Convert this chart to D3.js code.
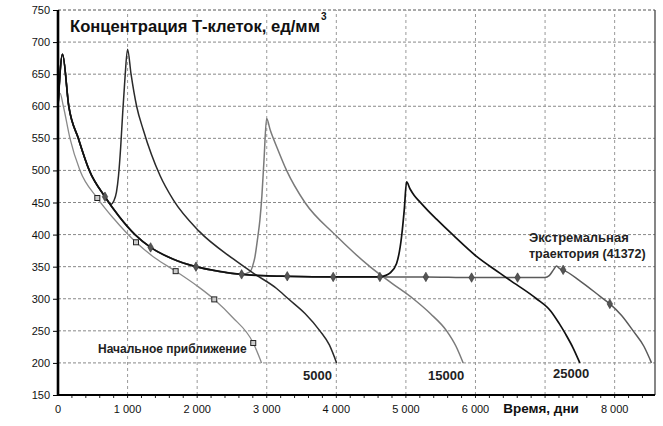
<!DOCTYPE html>
<html>
<head>
<meta charset="utf-8">
<script src="https://cdn.jsdelivr.net/npm/d3@7"></script>
<style>
  body { margin: 0; background: #fff; }
  text { font-family: "Liberation Sans", Arial, sans-serif; }
</style>
</head>
<body>
<div id="chart"></div>
<script>
// [time, days ; T-cell concentration]
const commonStart = [[0, 600], [65, 681], [155, 600], [292, 550], [450, 500], [675, 459]];
const commonMid = [[880, 428], [1106, 400], [1331, 380], [1650, 362], [1983, 350], [2300, 343], [2639, 338]];
const commonLate = [[2960, 336], [3295, 335], [3955, 334], [4626, 334]];

const initialApprox = [[0, 600], [30, 620], [77, 600], [172, 550], [316, 500], [565, 457], [800, 425],
  [1121, 388], [1400, 363], [1691, 343], [2000, 320], [2246, 299], [2500, 272], [2806, 231], [2926, 200]];
const tail5000 = [[760, 447], [800, 452], [840, 466], [870, 492], [900, 535], [930, 590], [960, 640],
  [1000, 689], [1050, 650], [1130, 600], [1226, 563], [1466, 492], [1657, 454], [2030, 405], [2519, 362],
  [2806, 340], [3142, 316], [3309, 300], [3550, 277], [3764, 250], [3900, 228], [4004, 200]];
const tail15000 = [[2760, 342], [2800, 352], [2830, 365], [2870, 395], [2902, 423], [2930, 460], [2960, 515],
  [2998, 581], [3050, 563], [3150, 535], [3285, 500], [3549, 450], [3980, 400], [4250, 372], [4483, 350],
  [4800, 324], [5105, 300], [5350, 277], [5585, 250], [5720, 226], [5823, 200]];
const tail25000 = [[4700, 336], [4770, 340], [4866, 355], [4938, 397], [4976, 438], [5010, 482], [5060, 471],
  [5120, 461], [5201, 451], [5320, 437], [5440, 424], [5680, 399], [6015, 366], [6350, 340], [6494, 329],
  [6877, 300], [7080, 281], [7200, 262], [7300, 244], [7400, 224], [7500, 200]];
const tailExtremal = [[5287, 334], [5944, 333], [6605, 333], [6997, 333], [7060, 336], [7120, 345], [7165, 351],
  [7210, 347], [7260, 345], [7500, 328], [7800, 303], [7931, 292], [8100, 274], [8266, 250], [8420, 226], [8530, 200]];

const squareMarks = [[565, 457], [1121, 388], [1691, 343], [2246, 299], [2806, 231]];
const diamondMarks = [[675, 459], [1331, 380], [1983, 350], [2639, 338], [3295, 335], [3955, 334],
  [4626, 334], [5287, 334], [5944, 333], [6605, 333], [7260, 345], [7931, 292]];

const xTicks = [0, 1000, 2000, 3000, 4000, 5000, 6000, 7000, 8000];
const xTickLabels = ['0', '1 000', '2 000', '3 000', '4 000', '5 000', '6 000', '', '8 000'];
const yTicks = [150, 200, 250, 300, 350, 400, 450, 500, 550, 600, 650, 700, 750];

const W = 663, H = 426;
const svg = d3.select('#chart').append('svg').attr('width', W).attr('height', H);

const x = d3.scaleLinear().domain([0, 8580]).range([58, 655]);
const y = d3.scaleLinear().domain([150, 750]).range([395, 10]);

// grid
svg.append('g').selectAll('line').data(yTicks.filter(d => d > 150)).join('line')
  .attr('x1', x(0)).attr('x2', x(8580))
  .attr('y1', d => y(d)).attr('y2', d => y(d))
  .attr('stroke', d => d === 750 ? '#555' : '#888').attr('stroke-width', 1)
  .attr('stroke-dasharray', '3,2');
svg.append('g').selectAll('line').data(xTicks.filter(d => d > 0)).join('line')
  .attr('x1', d => x(d)).attr('x2', d => x(d))
  .attr('y1', y(150)).attr('y2', y(750))
  .attr('stroke', '#999').attr('stroke-width', 1)
  .attr('stroke-dasharray', '3,3');

// right frame
svg.append('line').attr('x1', x(8580)).attr('x2', x(8580)).attr('y1', y(750)).attr('y2', y(150))
  .attr('stroke', '#444').attr('stroke-width', 1.3);

// curves
const line = d3.line().x(d => x(d[0])).y(d => y(d[1])).curve(d3.curveMonotoneX);
const series = [
  { pts: initialApprox, color: '#8a8a8a', w: 1.3 },
  { pts: commonStart.concat(commonMid, commonLate, tailExtremal), color: '#5a5a5a', w: 1.5 },
  { pts: commonStart.concat(commonMid, tail15000), color: '#7a7a7a', w: 1.5 },
  { pts: commonStart.concat(tail5000), color: '#2a2a2a', w: 1.5 },
  { pts: commonStart.concat(commonMid, commonLate, tail25000), color: '#111', w: 1.7 }
];
series.forEach(s => {
  svg.append('path').datum(s.pts)
    .attr('fill', 'none').attr('stroke', s.color).attr('stroke-width', s.w)
    .attr('stroke-linejoin', 'round').attr('d', line);
});

// markers
svg.append('g').selectAll('rect').data(squareMarks).join('rect')
  .attr('x', d => x(d[0]) - 2.5).attr('y', d => y(d[1]) - 2.5)
  .attr('width', 5).attr('height', 5)
  .attr('fill', '#ccc').attr('stroke', '#222').attr('stroke-width', 1);
svg.append('g').selectAll('path').data(diamondMarks).join('path')
  .attr('transform', d => `translate(${x(d[0])},${y(d[1])})`)
  .attr('d', d3.symbol(d3.symbolDiamond, 26))
  .attr('fill', '#555').attr('stroke', '#333').attr('stroke-width', 0.6);

// axes
const yAxis = svg.append('g').attr('transform', `translate(${x(0)},0)`)
  .call(d3.axisLeft(y).tickValues(yTicks).tickSize(5).tickPadding(3));
yAxis.select('.domain').remove();
yAxis.selectAll('text').attr('font-size', 11).attr('fill', '#111')
  .style('font-family', '"Liberation Sans", Arial, sans-serif');

const minor = d3.range(200, 8580, 200);
svg.append('g').selectAll('line').data(minor).join('line')
  .attr('x1', d => x(d)).attr('x2', d => x(d))
  .attr('y1', y(150)).attr('y2', y(150) + 3)
  .attr('stroke', '#222').attr('stroke-width', 1);

svg.append('g').selectAll('text').data(xTicks).join('text')
  .attr('x', d => x(d)).attr('y', 413)
  .attr('text-anchor', 'middle').attr('font-size', 11).attr('fill', '#111')
  .text((d, i) => xTickLabels[i]);

svg.append('line').attr('x1', x(0)).attr('x2', x(8580)).attr('y1', y(150)).attr('y2', y(150))
  .attr('stroke', '#000').attr('stroke-width', 2);
svg.append('line').attr('x1', x(0)).attr('x2', x(0)).attr('y1', y(750)).attr('y2', y(150) + 1)
  .attr('stroke', '#000').attr('stroke-width', 2.6);

// titles and labels
const title = svg.append('text').attr('x', 70).attr('y', 32)
  .attr('font-size', 16.6).attr('font-weight', 'bold').attr('fill', '#111');
title.append('tspan').text('Концентрация Т-клеток, ед/мм');
title.append('tspan').attr('font-size', 10).attr('dx', 1).attr('dy', -12).text('3');

svg.append('text').attr('x', 541).attr('y', 413).attr('text-anchor', 'middle')
  .attr('font-size', 13.5).attr('font-weight', 'bold').attr('fill', '#111').text('Время, дни');

const labels = [
  { t: 'Начальное приближение', x: 98, y: 353, s: 12 },
  { t: '5000', x: 303, y: 380, s: 13 },
  { t: '15000', x: 428, y: 380, s: 13 },
  { t: '25000', x: 553, y: 378, s: 13 },
  { t: 'Экстремальная', x: 529, y: 242, s: 13 },
  { t: 'траектория (41372)', x: 529, y: 258, s: 12.5 }
];
svg.append('g').selectAll('text').data(labels).join('text')
  .attr('x', d => d.x).attr('y', d => d.y).attr('font-size', d => d.s)
  .attr('font-weight', 'bold').attr('fill', '#222').text(d => d.t);
</script>
</body>
</html>
